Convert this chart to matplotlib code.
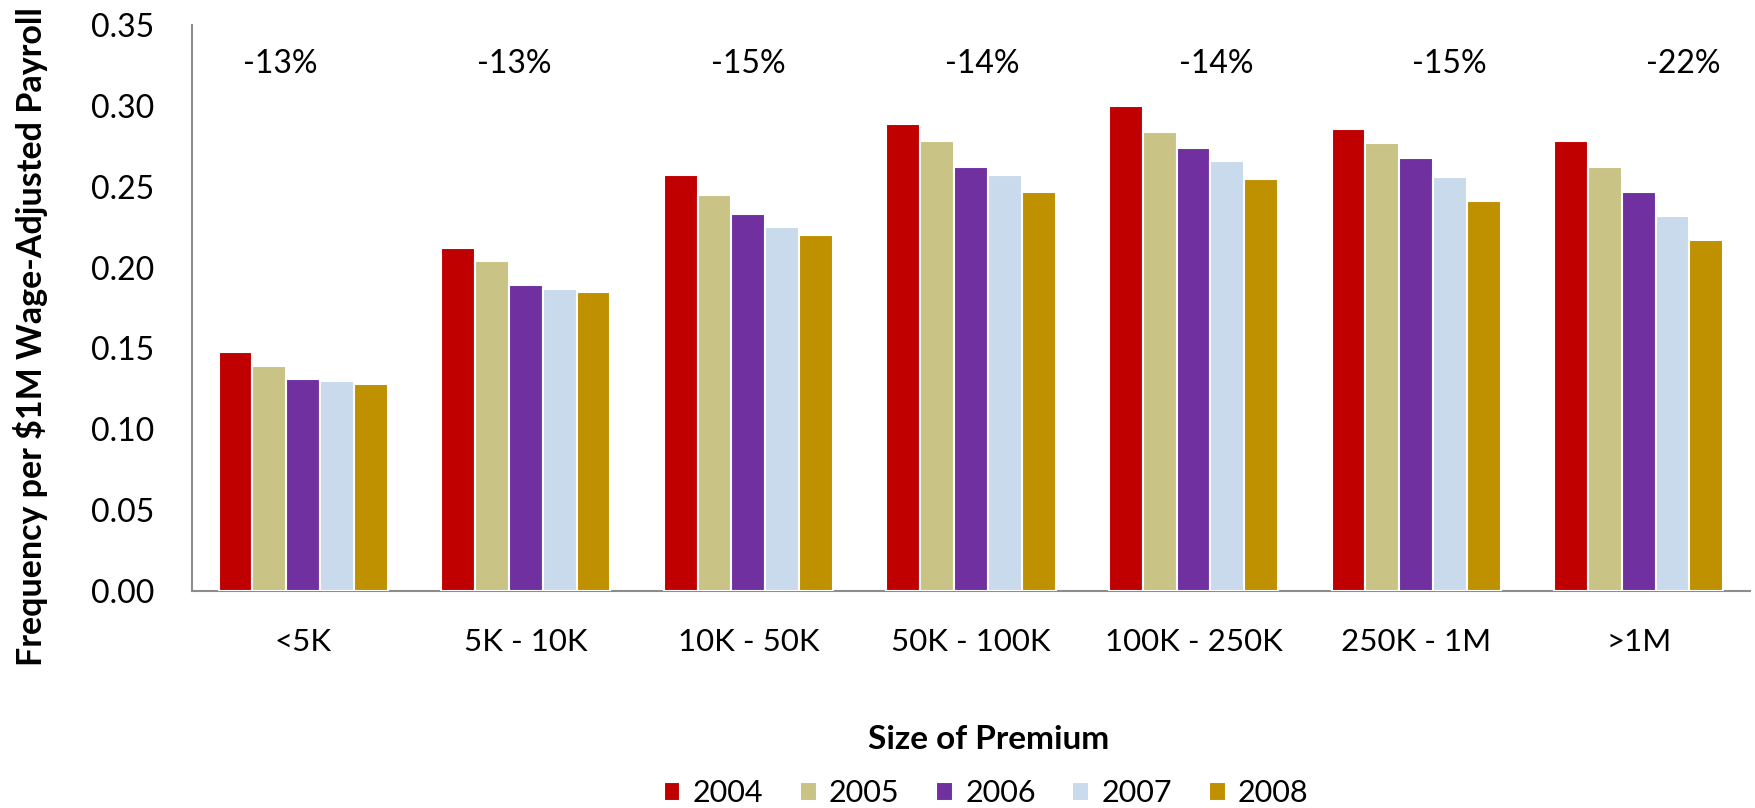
import matplotlib
matplotlib.use("Agg")
import matplotlib.pyplot as plt
import numpy as np

categories = ["<5K", "5K - 10K", "10K - 50K", "50K - 100K", "100K - 250K", "250K - 1M", ">1M"]
years = ["2004", "2005", "2006", "2007", "2008"]
v2004 = [0.148, 0.212, 0.257, 0.289, 0.300, 0.286, 0.278]
v2005 = [0.139, 0.204, 0.245, 0.278, 0.284, 0.277, 0.262]
v2006 = [0.131, 0.189, 0.233, 0.262, 0.274, 0.268, 0.247]
v2007 = [0.130, 0.187, 0.225, 0.257, 0.266, 0.256, 0.232]
v2008 = [0.128, 0.185, 0.220, 0.247, 0.255, 0.241, 0.217]
changes = ["-13%", "-13%", "-15%", "-14%", "-14%", "-15%", "-22%"]
yticks = [0.00, 0.05, 0.10, 0.15, 0.20, 0.25, 0.30, 0.35]

series = [v2004, v2005, v2006, v2007, v2008]
colors = ["#C00000", "#C9C386", "#7030A0", "#C8DAEB", "#BF9000"]

plt.rcParams['font.family'] = ['Lato', 'DejaVu Sans']

fig = plt.figure(figsize=(17.56, 8.08), dpi=100)
ax = fig.add_axes([0.1093, 0.2686, 0.8873, 0.7004])

x = np.arange(len(categories))
bw = 0.152
for i, (vals, c, yr) in enumerate(zip(series, colors, years)):
    ax.bar(x + (i - 2) * bw, vals, width=bw, color=c, edgecolor="white",
           linewidth=1.5, label=yr, zorder=3)

ax.set_xlim(-0.5, len(categories) - 0.5)
ax.set_ylim(0, 0.35)
ax.set_yticks(yticks)
ax.set_yticklabels([f"{t:.2f}" for t in yticks])
ax.set_xticks(x)
ax.set_xticklabels(categories)
ax.tick_params(axis="y", length=0, pad=27, labelsize=23)
ax.tick_params(axis="x", length=0, pad=27, labelsize=22.5)

for s in ["top", "right"]:
    ax.spines[s].set_visible(False)
for s in ["left", "bottom"]:
    ax.spines[s].set_color("#8c8c8c")
    ax.spines[s].set_linewidth(1.5)

# percentage change labels
for i, ch in enumerate(changes):
    ax.text(i * 1.051 - 0.104, 0.326, ch, ha="center", va="center", fontsize=23)

fig.text(0.0176, 0.584, "Frequency per $1M Wage-Adjusted Payroll", rotation=90,
         ha="center", va="center", fontsize=24.5, fontweight="bold")
fig.text(0.563, 0.085, "Size of Premium", ha="center", va="center",
         fontsize=24, fontweight="bold")

leg = fig.legend(loc="center", bbox_to_anchor=(0.5615, 0.018), ncol=5, frameon=False,
                 fontsize=22, handlelength=0.55, handleheight=0.55, handletextpad=0.4,
                 columnspacing=1.2)

fig.savefig("out.png", dpi=100)
